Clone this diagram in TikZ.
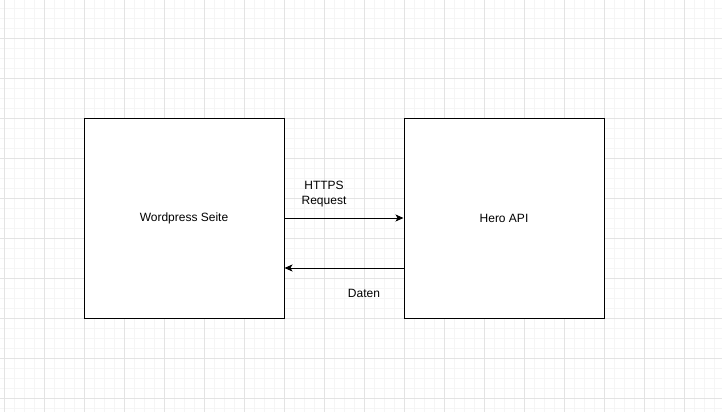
\documentclass[tikz,border=0pt]{standalone}
\usepackage{fontspec}
\setmainfont{Liberation Sans}
\usetikzlibrary{arrows.meta}
\begin{document}
\begin{tikzpicture}[x=1pt,y=-1pt,
  box/.style={draw=black,line width=1pt,minimum width=200pt,minimum height=200pt,inner sep=0pt,font=\fontsize{12}{14}\selectfont},
  lbl/.style={font=\fontsize{12}{15}\selectfont,align=center,inner sep=0pt},
  conn/.style={line width=1pt,-{Stealth[length=8pt,width=7pt,inset=2pt]}}]
\useasboundingbox (0,0) rectangle (722,412);
\fill[white] (0,0) rectangle (722,412);
\foreach \x in {4,14,...,722} \draw[color=black!4,line width=0.6pt] (\x,0) -- (\x,412);
\foreach \y in {8,18,...,412} \draw[color=black!4,line width=0.6pt] (0,\y) -- (722,\y);
\foreach \x in {4,44,...,722} \draw[color=black!11,line width=0.8pt] (\x,0) -- (\x,412);
\foreach \y in {38,78,...,412} \draw[color=black!11,line width=0.8pt] (0,\y) -- (722,\y);
\node[box,fill=white] (wp) at (184,218) {Wordpress Seite};
\node[box,fill=white] (api) at (504,218) {Hero API};
\coordinate (a2) at (404,268);
\coordinate (b2) at (284,268);
\draw[conn] (wp.east) -- (api.west);
\draw[conn] (api.west |- a2) -- (wp.east |- b2);
\node[lbl] (req) at (324,194) {HTTPS\\Request};
\node[lbl] (dat) at (364,293) {Daten};
\end{tikzpicture}
\end{document}
